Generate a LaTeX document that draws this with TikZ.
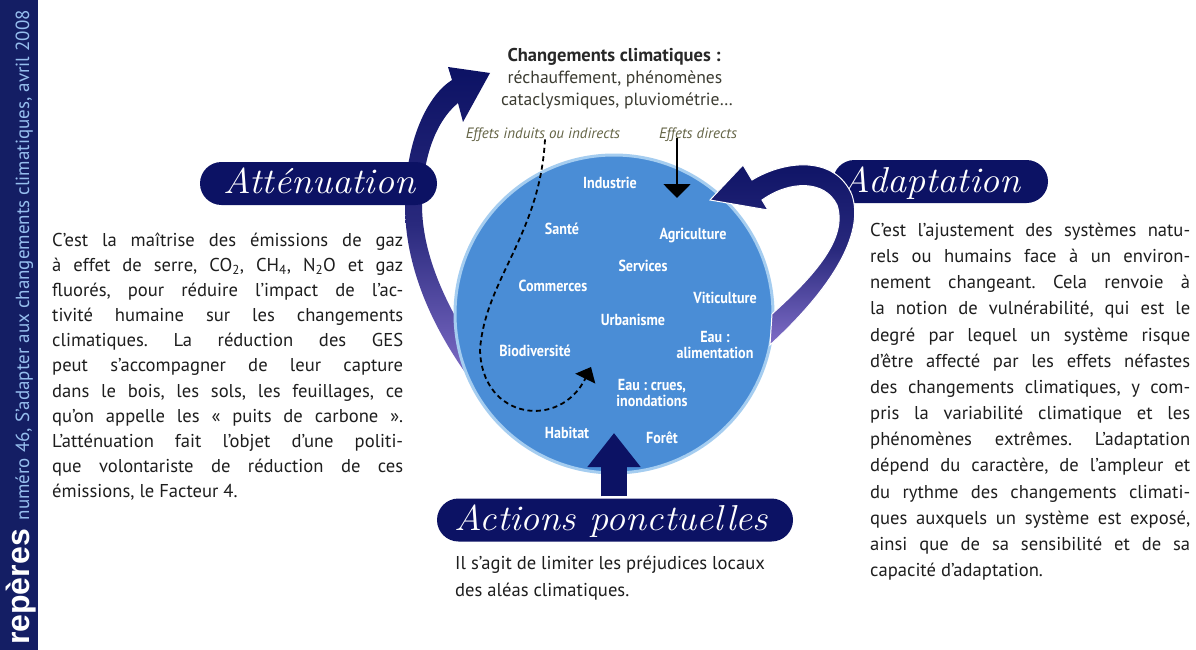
\documentclass[tikz,border=0pt]{standalone}
\usepackage{fontspec}
\usepackage{graphicx}
\newfontfamily\sansf{PT Sans}
\newfontfamily\blackf{Liberation Sans}
\usetikzlibrary{arrows.meta}
\frenchspacing
\definecolor{navy}{RGB}{12,18,100}
\definecolor{lav}{RGB}{128,110,200}
\definecolor{circblue}{RGB}{74,141,214}
\definecolor{circrim}{RGB}{165,205,240}
\definecolor{sidebar}{RGB}{20,30,100}
\definecolor{sidetext}{RGB}{150,190,238}
\definecolor{bodytext}{RGB}{30,30,30}
\definecolor{titletext}{RGB}{40,40,40}
\definecolor{subtext}{RGB}{60,60,50}
\definecolor{effets}{RGB}{100,100,70}
\newcommand\cl[1]{\scalebox{0.88}[1]{#1}}
\newcommand\pt[1]{\scalebox{1.06}[1]{#1}}
\begin{document}
\begin{tikzpicture}[x=1pt,y=-1pt,
  body/.style={anchor=base west, inner sep=0, text=bodytext, font=\sansf\fontsize{18.6}{22}\selectfont},
  clabel/.style={inner sep=0, text=white, align=center, font=\sansf\bfseries\fontsize{16}{16.5}\selectfont},
  pill/.style={fill=navy, rounded corners=21.5pt, inner sep=0, minimum height=43pt},
  pilltext/.style={anchor=base, inner sep=0, text=white, font=\itshape\fontsize{36}{36}\selectfont},
  effet/.style={anchor=base, inner sep=0, text=effets, font=\sansf\itshape\fontsize{15}{17}\selectfont},
  band/.style={top color=navy, bottom color=lav, middle color=navy!75!lav}
]
\fill[white] (0,0) rectangle (1196,650);
\useasboundingbox (0,0) rectangle (1196,650);

% side bar
\fill[sidebar] (0,0) rectangle (38,650);
\node[rotate=90, anchor=base west, inner sep=0] (side) at (29,645)
  {\blackf\bfseries\fontsize{32}{32}\selectfont\color{white}repères\ \sansf\mdseries\fontsize{19}{20}\selectfont\color{sidetext}numéro 46, S’adapter aux changements climatiques, avril 2008};

% attenuation band (behind pill and circle)
\shade[band] (452,80) .. controls (428,95) and (405,140) .. (405,205)
  .. controls (405,265) and (430,325) .. (472,382) -- (484,362)
  .. controls (447,310) and (422,255) .. (422,205)
  .. controls (422,160) and (435,122) .. (458,103)
  -- (463,122) -- (490,73) -- (448,67) -- cycle;

% pills
\node[pill, minimum width=237pt] (att) at (318.5,183.5) {};
\node[pilltext] (attT) at (319.5,193) {\pt{Atténuation}};
\node[pill, minimum width=215pt] (adp) at (940.5,181.5) {};
\node[pilltext] (adpT) at (931.5,192) {\pt{Adaptation}};

% circle
\node[circle, minimum size=318pt, inner sep=0, fill=circblue, draw=circrim, line width=3pt] (circ) at (614,314) {};

% adaptation band (over pill and circle)
\shade[band, draw=white, line width=1pt] (752,180) .. controls (785,160) and (835,155) .. (852,195)
  .. controls (865,235) and (830,290) .. (770,345) -- (772,314)
  .. controls (815,275) and (848,238) .. (837,205)
  .. controls (825,180) and (790,180) .. (762,200)
  -- (768,210) -- (710,200) -- (743,165) -- cycle;

% circle labels
\node[clabel] (l1) at (610,183) {\cl{Industrie}};
\node[clabel] (l2) at (562,229) {\cl{Santé}};
\node[clabel] (l3) at (693,236) {\cl{Agriculture}};
\node[clabel] (l4) at (643,266) {\cl{Services}};
\node[clabel] (l5) at (553,286) {\cl{Commerces}};
\node[clabel] (l6) at (725,298) {\cl{Viticulture}};
\node[clabel] (l7) at (633,320) {\cl{Urbanisme}};
\node[clabel] (l8) at (715,345) {\cl{Eau :}\\\cl{alimentation}};
\node[clabel] (l9) at (535,351) {\cl{Biodiversité}};
\node[clabel] (l10) at (652,393) {\cl{Eau : crues,}\\\cl{inondations}};
\node[clabel] (l11) at (567,433) {\cl{Habitat}};
\node[clabel] (l12) at (662,438) {\cl{Forêt}};

% top texts
\node[anchor=base, inner sep=0, text=titletext, font=\sansf\bfseries\fontsize{18.5}{20}\selectfont] (t1) at (614,62) {Changements climatiques :};
\node[anchor=base, inner sep=0, text=subtext, font=\sansf\fontsize{17.6}{20}\selectfont] (t2) at (615,84) {réchauffement, phénomènes};
\node[anchor=base, inner sep=0, text=subtext, font=\sansf\fontsize{17.6}{20}\selectfont] (t3) at (617,106) {cataclysmiques, pluviométrie…};
\node[effet] (ei) at (543,139) {Effets induits ou indirects};
\node[effet] (ed) at (698,139) {Effets directs};

% arrows
\coordinate (dTip) at (591,367);
\draw[black, line width=1.8pt, dash pattern=on 5pt off 3.5pt, -{Triangle[width=22pt,length=13pt]}]
  ([xshift=2pt,yshift=3pt]ei.south) .. controls (540,235) and (485,280) .. (480,350)
  .. controls (482,420) and (560,430) .. (dTip);
\coordinate (edTip) at (677,198);
\draw[black, line width=2pt, -{Triangle[width=27pt,length=14pt]}] ([yshift=4pt]ed.south -| edTip) -- (edTip);

\node[pill, minimum width=356pt] (act) at (615,520) {};
\node[pilltext] (actT) at (611,530) {\pt{Actions ponctuelles}};
\coordinate (upTip) at (614,433);
\draw[navy, line width=26pt, -{Triangle[width=51pt,length=34pt]}] ([yshift=2pt]act.north -| upTip) -- (upTip);

% left text
\foreach \t [count=\i] in {
  {C’est la maîtrise des émissions de gaz},
  {à effet de serre, CO\textsubscript{2}, CH\textsubscript{4}, N\textsubscript{2}O et gaz},
  {fluorés, pour réduire l’impact de l’ac-},
  {tivité humaine sur les changements},
  {climatiques. La réduction des GES},
  {peut s’accompagner de leur capture},
  {dans le bois, les sols, les feuillages, ce},
  {qu’on appelle les « puits de carbone ».},
  {L’atténuation fait l’objet d’une politi-},
  {que volontariste de réduction de ces}}
  \node[body] (gL\i) at (52,{246+25.17*(\i-1)}) {\makebox[351pt][s]{\t}};
\node[body] (gL11) at (52,497.7) {émissions, le Facteur 4.};

% right text
\foreach \t [count=\i] in {
  {C’est l’ajustement des systèmes natu-},
  {rels ou humains face à un environ-},
  {nement changeant. Cela renvoie à},
  {la notion de vulnérabilité, qui est le},
  {degré par lequel un système risque},
  {d’être affecté par les effets néfastes},
  {des changements climatiques, y com-},
  {pris la variabilité climatique et les},
  {phénomènes extrêmes. L’adaptation},
  {dépend du caractère, de l’ampleur et},
  {du rythme des changements climati-},
  {ques auxquels un système est exposé,},
  {ainsi que de sa sensibilité et de sa}}
  \node[body] (dL\i) at (870,{236.5+26.15*(\i-1)}) {\makebox[320pt][s]{\t}};
\node[body] (dL14) at (870,576.5) {capacité d’adaptation.};

% bottom text
\node[body] (b1) at (455,569.5) {Il s’agit de limiter les préjudices locaux};
\node[body] (b2) at (455,596.5) {des aléas climatiques.};
\end{tikzpicture}
\end{document}
